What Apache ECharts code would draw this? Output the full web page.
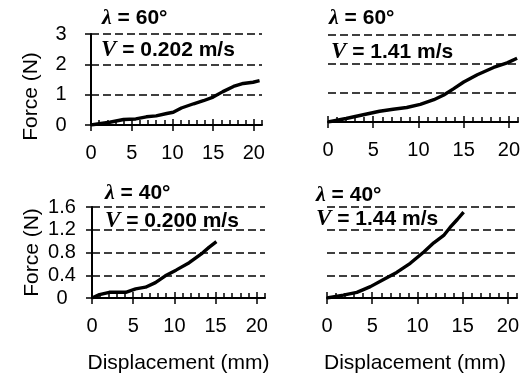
<!DOCTYPE html>
<html>
<head>
<meta charset="utf-8">
<title>Force vs displacement</title>
<script src="https://cdn.jsdelivr.net/npm/echarts@6/dist/echarts.min.js"></script>
<style>
    html, body { margin: 0; padding: 0; background: #fff; }
    #chart { width: 524px; height: 375px; }
</style>
</head>
<body>
<div id="chart"></div>
<script>
// tick values
var xMajorTicks = [0, 5, 10, 15, 20];
var forceTicksTop = [0, 1, 2, 3];
var forceTicksBottom = [0, 0.4, 0.8, 1.2, 1.6];

// panel labels
var lambdaLabels = ['60°', '60°', '40°', '40°'];
var speedLabels = ['0.202', '1.41', '0.200', '1.44'];

// lambda = 60, V = 0.202 m/s
var disp60Slow = [0, 1, 2.3, 4, 5.5, 6.8, 8, 9.3, 10.1, 11.1, 12.6, 13.8, 15, 16.2, 17.5, 18.7, 19.9, 20.7];
var force60Slow = [0, 0.04, 0.09, 0.18, 0.2, 0.27, 0.3, 0.38, 0.42, 0.56, 0.7, 0.8, 0.92, 1.1, 1.27, 1.37, 1.41, 1.46];
// lambda = 60, V = 1.41 m/s
var disp60Fast = [0, 2, 3.9, 5.7, 7.2, 8.7, 10.2, 11.7, 12.8, 13.9, 15, 16.5, 18.3, 19.8, 20.9];
var force60Fast = [0, 0.12, 0.25, 0.37, 0.44, 0.5, 0.61, 0.77, 0.93, 1.15, 1.38, 1.63, 1.88, 2.04, 2.2];
// lambda = 40, V = 0.200 m/s
var disp40Slow = [0, 0.9, 2.1, 4.1, 5.3, 6.5, 7.7, 8.9, 10.2, 11.8, 13.4, 14.2, 15.1];
var force40Slow = [0, 0.06, 0.1, 0.1, 0.16, 0.19, 0.27, 0.39, 0.49, 0.62, 0.79, 0.89, 0.99];
// lambda = 40, V = 1.44 m/s
var disp40Fast = [0, 1.8, 3.3, 4.8, 6.3, 7.7, 9.2, 10.7, 11.8, 12.9, 13.6, 14.4, 15.1];
var force40Fast = [0, 0.05, 0.1, 0.2, 0.33, 0.45, 0.61, 0.81, 0.97, 1.1, 1.24, 1.38, 1.51];

var SANS = 'Liberation Sans';
var SERIF = 'Liberation Serif';

function pairs(xs, ys) {
    var out = [];
    for (var i = 0; i < xs.length; i++) {
        out.push([xs[i], ys[i]]);
    }
    return out;
}

// grid boxes: left, top, width, height
var panels = [
    {grid: [91, 34, 171, 91], ticks: forceTicksTop, yAxisShown: true, bottomRow: false, data: pairs(disp60Slow, force60Slow),
        lam: [102, 7], spd: [101, 39], namePad: [0, 34, 0, 0]},
    {grid: [328, 35, 190, 87], ticks: forceTicksTop, yAxisShown: false, bottomRow: false, data: pairs(disp60Fast, force60Fast),
        lam: [329, 7], spd: [331, 41]},
    {grid: [92, 207, 173, 92], ticks: forceTicksBottom, yAxisShown: true, bottomRow: true, data: pairs(disp40Slow, force40Slow),
        lam: [105, 182], spd: [105, 210], namePad: [0, 0, 0, 0]},
    {grid: [327, 207, 190, 91], ticks: forceTicksBottom, yAxisShown: false, bottomRow: true, data: pairs(disp40Fast, force40Fast),
        lam: [316, 184], spd: [316, 208]}
];

var grids = [], xAxes = [], yAxes = [], seriesList = [], titles = [];

panels.forEach(function (p, i) {
    var tks = p.ticks;
    var yStep = tks[1] - tks[0];
    grids.push({left: p.grid[0], top: p.grid[1], width: p.grid[2], height: p.grid[3]});

    // axis line with the small unit ticks
    xAxes.push({
        gridIndex: i, type: 'value', position: 'bottom', min: 0, max: 21, interval: 1,
        axisLine: {onZero: false, lineStyle: {color: '#000', width: 2}},
        axisTick: {inside: true, length: 5, lineStyle: {color: '#000', width: 1.5}},
        axisLabel: {show: false},
        splitLine: {show: false},
        name: p.bottomRow ? 'Displacement (mm)' : '',
        nameLocation: 'middle', nameGap: 55, nameMoveOverlap: false,
        nameTextStyle: {fontFamily: SANS, fontSize: 21, color: '#000', padding: i == 3 ? [0, 14, 0, 0] : 0}
    });
    // major ticks crossing the line + labels
    xAxes.push({
        gridIndex: i, type: 'value', position: 'bottom', offset: 6, min: 0, max: 21, interval: 5,
        axisLine: {show: false, onZero: false},
        axisTick: {inside: true, length: 12, customValues: xMajorTicks, lineStyle: {color: '#000', width: 1.5}},
        axisLabel: {customValues: xMajorTicks, margin: 12, fontFamily: SANS, fontSize: 20, color: '#000'},
        splitLine: {show: false}
    });

    yAxes.push({
        gridIndex: i, type: 'value', min: tks[0], max: tks[tks.length - 1], interval: yStep,
        axisLine: {show: p.yAxisShown, onZero: false, lineStyle: {color: '#000', width: 2}},
        axisTick: {show: p.yAxisShown, length: 6, lineStyle: {color: '#000', width: 1.5}},
        axisLabel: {show: p.yAxisShown, align: 'center', margin: 30, fontFamily: SANS, fontSize: 20, color: '#000'},
        splitLine: {show: true, lineStyle: {color: '#000', width: 1.6, type: [8, 4]}},
        name: p.yAxisShown ? 'Force (N)' : '',
        nameLocation: 'middle', nameGap: 49, nameRotate: 90, nameMoveOverlap: false,
        nameTextStyle: {fontFamily: SANS, fontSize: 21, color: '#000', padding: p.namePad || 0}
    });

    seriesList.push({
        type: 'line', xAxisIndex: 2 * i, yAxisIndex: i,
        data: p.data, showSymbol: false, symbol: 'none', z: 5,
        lineStyle: {color: '#000', width: 3.4}
    });

    titles.push({
        text: '{l|λ}{b| = ' + lambdaLabels[i] + '}',
        left: p.lam[0], top: p.lam[1], padding: 0,
        textStyle: {rich: {
            l: {fontFamily: SERIF, fontStyle: 'italic', fontWeight: 'bold', fontSize: 22, color: '#000'},
            b: {fontFamily: SANS, fontWeight: 'bold', fontSize: 21, color: '#000'}
        }}
    });
    titles.push({
        text: '{v|V}{b| = ' + speedLabels[i] + ' m/s}',
        left: p.spd[0], top: p.spd[1], padding: 0,
        textStyle: {rich: {
            v: {fontFamily: SERIF, fontStyle: 'italic', fontSize: 23, color: '#000'},
            b: {fontFamily: SANS, fontWeight: 'bold', fontSize: 21, color: '#000'}
        }}
    });
});

var myChart = echarts.init(document.getElementById('chart'));
myChart.setOption({
    backgroundColor: '#fff',
    animation: false,
    title: titles,
    grid: grids,
    xAxis: xAxes,
    yAxis: yAxes,
    series: seriesList
});
</script>
</body>
</html>
